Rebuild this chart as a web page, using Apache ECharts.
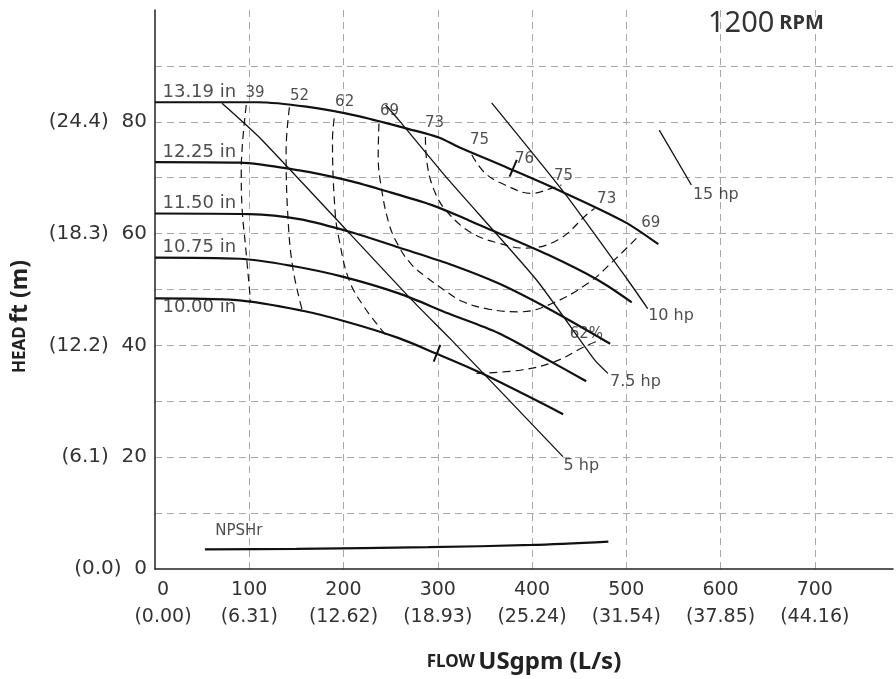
<!DOCTYPE html>
<html>
<head>
<meta charset="utf-8">
<script src="https://cdn.jsdelivr.net/npm/echarts@6.0.0/dist/echarts.min.js"></script>
<style>
html,body{margin:0;padding:0;background:#fff;}
#chart{width:896px;height:679px;}
</style>
</head>
<body>
<div id="chart"></div>
<script>
// ---- Tick labels ----
const xTickValues = [0, 100, 200, 300, 400, 500, 600, 700];
const xTickFlow = ['0', '100', '200', '300', '400', '500', '600', '700'];
const xTickLps = ['(0.00)', '(6.31)', '(12.62)', '(18.93)', '(25.24)', '(31.54)', '(37.85)', '(44.16)'];
const yTickValues = [0, 20, 40, 60, 80];
const yTickFt = ['0', '20', '40', '60', '80'];
const yTickM = ['(0.0)', '(6.1)', '(12.2)', '(18.3)', '(24.4)'];

// ---- Head curves (flow USgpm, head ft) ----
const head1319 = [[0,83.5],[108.8,83.5],[160.5,82.7],[213.3,81.1],[269.3,78.7],[301,77.2],[322.1,75.5],[374.9,71.7],[427.7,67.8],[498.1,62.1],[534,58.1]];
const head1225 = [[0,72.8],[89.8,72.7],[153.1,71.3],[202.4,69.6],[241.1,67.8],[293.9,65.1],[332.6,62.4],[357.2,60.6],[417.1,56.2],[469.9,51.7],[505.8,47.7]];
const head1150 = [[0,63.6],[100.3,63.5],[153.1,62.6],[209.4,60.2],[258.7,57.5],[311.5,54.6],[364.3,51.1],[417.1,46.6],[482.9,40.3]];
const head1075 = [[0,55.7],[89.8,55.5],[146,54.2],[198.8,52.3],[258.7,49.3],[311.5,45.7],[364.3,42.2],[413.6,37.7],[457.5,33.6]];
const head1000 = [[0,48.4],[86.6,48.1],[156.6,46.2],[205.9,44.1],[258.7,41.3],[297.5,38.6],[346.7,35.0],[433,27.7]];

// ---- Power lines ----
const hp5 = [[71.1,83.3],[113.7,76.7],[272.6,48.1],[314.9,40.9],[432.8,20.1]];
const hp75 = [[244.7,83.0],[258.7,80.3],[311.5,69.6],[404.8,51.7],[466.4,37.4],[480.5,35.0]];
const hp10 = [[357.2,83.4],[434.7,67.2],[501.6,51.7],[522.7,46.6]];
const hp15 = [[535.0,78.5],[569.1,68.7]];

// ---- Efficiency contours (%) ----
const eff39 = [[96.8,83.0],[93.0,76.5],[91.5,70.8],[92.5,64.2],[96.1,57.7],[101.4,47.8]];
const eff52 = [[142.6,82.6],[139.1,74.8],[140.8,63.7],[146.0,54.1],[156.6,46.0]];
const eff62 = [[190.1,80.6],[188.3,76.7],[191.1,63.9],[195.4,58.9],[205.9,51.7],[221.8,46.9],[244.7,41.9]];
const eff69 = [[237.6,79.7],[236.8,73.8],[239.4,69.0],[248.2,61.8],[258.7,57.7],[272,54.5],[288,52.2],[304.4,50.2],[325.6,47.9],[353.7,46.5],[385.4,46.0],[417.1,47.2],[459.3,51.1],[487.5,55.3],[513.9,59.7]];
const eff73 = [[286.9,77.3],[288.6,72.6],[297.5,67.2],[311.5,63.6],[336.1,60.1],[364.3,58.3],[392.5,57.4],[427.7,58.9],[459.3,63.6],[466.4,64.5]];
const eff75 = [[336.1,74.1],[350.3,70.8],[371.4,68.7],[399.5,67.2],[420.6,68.1],[431.2,68.7]];
const eff62low = [[341.1,35.0],[388.9,35.6],[424.2,37.1],[455.9,39.8],[473.1,41.0]];
const bep76 = [[383.9,73.2],[376.2,70.2]];
const bep1000 = [[302.7,40.1],[295.7,37.1]];

// ---- NPSHr (ft) ----
const npshr = [[53,3.5],[150,3.6],[290,3.9],[400,4.3],[481,4.9]];

// ---- Annotation texts anchored at data points ----
const diameterLabels = [[7.4,85.3,'13.19 in'],[7.4,74.6,'12.25 in'],[7.4,65.5,'11.50 in'],[7.4,57.6,'10.75 in'],[7.4,46.9,'10.00 in']];
const hpLabels = [[432.9,18.5,'5 hp'],[482.3,33.4,'7.5 hp'],[522.7,45.2,'10 hp'],[570.2,67.0,'15 hp']];
const effLabels = [[106.1,85.1,'39'],[153.4,84.6,'52'],[201.2,83.6,'62'],[248.9,82.0,'69'],[296.5,79.7,'73'],[344.3,76.7,'75'],[392.1,73.4,'76'],[433.5,70.2,'75'],[479.2,66.2,'73'],[525.9,61.8,'69'],[457.6,42.0,'62%']];
const npshLabels = [[63.4,6.7,'NPSHr']];

const FONT = '"DejaVu Sans", "Noto Sans", sans-serif';
const HFONT = '"Noto Sans", "Open Sans", sans-serif';
const INK = '#111';

function lineSeries(data, width, dashed, smooth) {
  return {
    type: 'line', data: data, showSymbol: false, symbol: 'none', smooth: smooth,
    lineStyle: { color: INK, width: width, type: dashed ? [8, 5] : 'solid' },
    silent: true, z: 3
  };
}
function labelSeries(data, pos, size) {
  return {
    type: 'scatter', data: data, symbolSize: 1, itemStyle: { color: 'rgba(0,0,0,0)' },
    encode: { x: 0, y: 1 }, silent: true, z: 5,
    label: {
      show: true, position: pos, distance: 0, formatter: p => p.data[2],
      fontFamily: FONT, fontSize: size, color: '#222'
    }
  };
}

const chart = echarts.init(document.getElementById('chart'), null, { renderer: 'canvas' });
chart.setOption({
  animation: false,
  backgroundColor: '#fff',
  title: {
    text: '{a|1200} {b|RPM}', left: 703, top: 4,
    textStyle: { fontWeight: 'normal', rich: {
      a: { fontFamily: HFONT, fontSize: 29, fontWeight: 'normal', color: '#333' },
      b: { fontFamily: HFONT, fontSize: 20, fontWeight: 'bold', color: '#333' }
    } }
  },
  grid: { left: 155, right: 0, top: 10, bottom: 110, containLabel: false },
  xAxis: {
    type: 'value', min: 0, max: 783, interval: 100,
    name: '{s|FLOW} {b|USgpm (L/s)}', nameLocation: 'middle', nameGap: 81,
    nameTextStyle: { rich: {
      s: { fontFamily: HFONT, fontSize: 17, fontWeight: 'bold', color: '#222' },
      b: { fontFamily: HFONT, fontSize: 24, fontWeight: 'bold', color: '#222' }
    } },
    axisLine: { show: true, lineStyle: { color: '#222', width: 1.5 } },
    axisTick: { show: false },
    axisLabel: {
      margin: 8, fontFamily: FONT, fontSize: 19, color: '#333', lineHeight: 27,
      formatter: v => {
        const i = xTickValues.indexOf(v);
        if (i < 0) return '';
        if (i === 0) return '{f|' + xTickFlow[i] + '}\n{f|' + xTickLps[i] + '}';
        return xTickFlow[i] + '\n' + xTickLps[i];
      },
      rich: { f: { fontFamily: FONT, fontSize: 19, color: '#333', lineHeight: 27, padding: [0, 0, 0, 16] } }
    },
    splitLine: { show: true, showMinLine: false, showMaxLine: false, lineStyle: { color: '#a8a8a8', width: 1, type: [7, 5] } }
  },
  yAxis: {
    type: 'value', min: 0, max: 100, interval: 10,
    name: '{s|HEAD} {b|ft (m)}', nameLocation: 'middle', nameGap: 123, nameRotate: 90,
    nameTextStyle: { padding: [0, 54, 0, 0], rich: {
      s: { fontFamily: HFONT, fontSize: 17, fontWeight: 'bold', color: '#222' },
      b: { fontFamily: HFONT, fontSize: 23, fontWeight: 'bold', color: '#222' }
    } },
    axisLine: { show: true, lineStyle: { color: '#222', width: 1.5 } },
    axisTick: { show: false },
    axisLabel: {
      margin: 8, fontFamily: FONT, fontSize: 20, color: '#333',
      formatter: v => { const i = yTickValues.indexOf(v); return i < 0 ? '' : yTickM[i] + '  ' + yTickFt[i]; }
    },
    splitLine: { show: true, showMinLine: false, showMaxLine: false, lineStyle: { color: '#a8a8a8', width: 1, type: [7, 5] } }
  },
  series: [
    lineSeries(head1319, 2.2, false, 0.3),
    lineSeries(head1225, 2.2, false, 0.3),
    lineSeries(head1150, 2.2, false, 0.3),
    lineSeries(head1075, 2.2, false, 0.3),
    lineSeries(head1000, 2.2, false, 0.3),
    lineSeries(hp5, 1.3, false, 0.2),
    lineSeries(hp75, 1.3, false, 0.2),
    lineSeries(hp10, 1.3, false, 0.2),
    lineSeries(hp15, 1.3, false, 0),
    lineSeries(eff39, 1.2, true, 0.4),
    lineSeries(eff52, 1.2, true, 0.4),
    lineSeries(eff62, 1.2, true, 0.4),
    lineSeries(eff69, 1.2, true, 0.4),
    lineSeries(eff73, 1.2, true, 0.4),
    lineSeries(eff75, 1.2, true, 0.4),
    lineSeries(eff62low, 1.2, true, 0.4),
    lineSeries(bep76, 2, false, 0),
    lineSeries(bep1000, 2, false, 0),
    lineSeries(npshr, 2.2, false, 0.3),
    labelSeries(diameterLabels, 'right', 18),
    labelSeries(hpLabels, 'right', 16),
    labelSeries(effLabels, 'inside', 15),
    labelSeries(npshLabels, 'right', 15)
  ]
});
</script>
</body>
</html>
